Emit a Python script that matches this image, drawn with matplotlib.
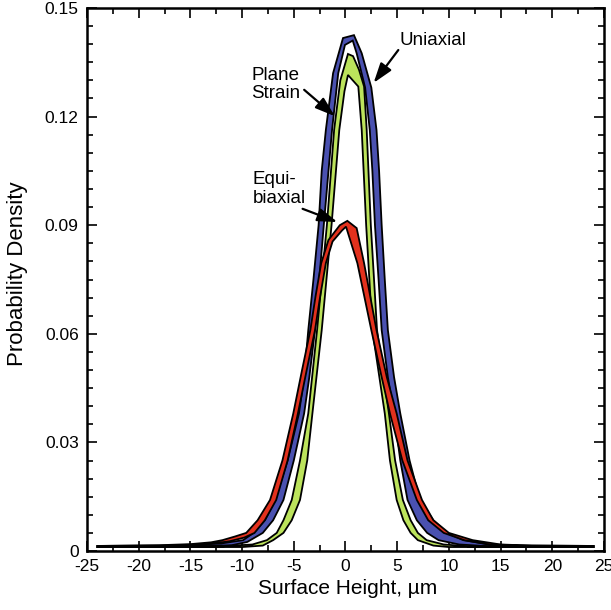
import matplotlib
matplotlib.use('Agg')
import matplotlib.pyplot as plt
from matplotlib.ticker import MultipleLocator, FuncFormatter

plt.rcParams['font.family'] = ['Liberation Sans', 'DejaVu Sans']
plt.rcParams['axes.unicode_minus'] = False

# each band = upper (outer) curve and lower (inner) curve, surface height in um
# uniaxial
uni_hi_x = [-24, -18, -14, -12, -9.9, -8.9, -7.8, -6.8, -5.6, -4.5, -4.0, -3.6, -3.1, -2.6, -2.3, -1.9,
            -1.2, -0.24, 0.82, 1.57, 2.5, 3.0, 3.25, 3.5, 3.8, 4.1, 4.7, 5.3, 6.2, 7.2, 8.5, 9.8, 11.4,
            14, 18, 24]
uni_hi_y = [0.0014, 0.0015, 0.0018, 0.0021, 0.003, 0.005, 0.0085, 0.0141, 0.025, 0.038, 0.048, 0.061,
            0.075, 0.09, 0.105, 0.1163, 0.132, 0.1417, 0.1425, 0.1375, 0.128, 0.1163, 0.105, 0.09,
            0.075, 0.061, 0.048, 0.038, 0.025, 0.0141, 0.0085, 0.005, 0.003, 0.0018, 0.0015, 0.0014]
uni_lo_x = [-24, -14, -11, -9.5, -8.0, -7.0, -6.0, -5.0, -4.0, -3.5, -2.95, -2.1, -1.3, -0.7, -0.05,
            0.7, 1.08, 1.9, 2.35, 2.6, 2.85, 3.2, 3.5, 4.1, 4.7, 5.3, 6.0, 6.9, 7.9, 9.0, 11, 14, 24]
uni_lo_y = [0.0011, 0.0013, 0.0016, 0.0025, 0.005, 0.0085, 0.0141, 0.025, 0.038, 0.048, 0.061, 0.09,
            0.1163, 0.132, 0.1398, 0.141, 0.1375, 0.128, 0.1163, 0.105, 0.09, 0.075, 0.061, 0.048,
            0.038, 0.025, 0.0141, 0.0085, 0.005, 0.003, 0.0018, 0.0013, 0.0011]

# plane strain
ps_hi_x = [-24, -12, -9, -7.6, -6.65, -6.0, -5.2, -4.4, -3.6, -2.75, -1.8, -1.1, -0.5, 0.24, 0.73,
           1.3, 1.8, 2.05, 2.45, 3.05, 4.2, 4.8, 5.55, 6.3, 7.0, 7.85, 9.5, 12, 24]
ps_hi_y = [0.0013, 0.0013, 0.0018, 0.003, 0.005, 0.0085, 0.0141, 0.025, 0.038, 0.061, 0.09, 0.1163,
           0.130, 0.1373, 0.1367, 0.133, 0.1283, 0.1163, 0.09, 0.061, 0.038, 0.025, 0.0141, 0.0085,
           0.005, 0.003, 0.0018, 0.0013, 0.0013]
ps_lo_x = [-24, -10, -8, -7, -6.0, -5.2, -4.4, -3.7, -3.2, -2.3, -1.35, -0.6, -0.1, 0.24, 1.24, 1.57,
           2.0, 2.6, 3.8, 4.3, 4.95, 5.6, 6.3, 7, 8.5, 10, 24]
ps_lo_y = [0.0011, 0.0011, 0.0015, 0.003, 0.005, 0.0085, 0.0141, 0.025, 0.038, 0.061, 0.09, 0.1163,
           0.127, 0.1315, 0.1283, 0.1163, 0.09, 0.061, 0.038, 0.025, 0.0141, 0.0085, 0.005, 0.003,
           0.0015, 0.0011, 0.0011]

# equi-biaxial
eq_hi_x = [-24, -18, -15, -13, -11.9, -10.7, -9.6, -8.5, -7.3, -6.1, -5.05, -4.2, -3.4, -2.9, -2.35,
           -1.65, -0.55, 0.18, 1.08, 1.8, 3.0, 4.0, 4.95, 6.0, 7.4, 8.5, 10, 12.3, 15, 18, 24]
eq_hi_y = [0.0014, 0.0016, 0.0019, 0.0024, 0.003, 0.004, 0.005, 0.0085, 0.0141, 0.025, 0.038, 0.050,
           0.061, 0.0703, 0.0795, 0.0859, 0.090, 0.0912, 0.0892, 0.0795, 0.061, 0.048, 0.038, 0.025,
           0.0141, 0.0085, 0.005, 0.003, 0.0018, 0.0015, 0.0014]
eq_lo_x = [-24, -18, -15, -13, -11.2, -9.8, -8.8, -7.8, -6.7, -5.6, -4.6, -3.75, -2.95, -2.45, -1.9,
           -1.25, -0.35, 0.05, 1.15, 2.5, 3.5, 4.3, 5.5, 6.9, 8.0, 9.5, 11.5, 14, 18, 24]
eq_lo_y = [0.0011, 0.0013, 0.0016, 0.002, 0.0027, 0.0037, 0.005, 0.0085, 0.0141, 0.025, 0.038, 0.050,
           0.061, 0.0703, 0.0795, 0.0855, 0.0885, 0.0896, 0.0795, 0.061, 0.048, 0.038, 0.025, 0.0141,
           0.0085, 0.005, 0.003, 0.0017, 0.0013, 0.0011]

fig = plt.figure(figsize=(6.11, 6.10), dpi=100)
ax = fig.add_axes([0.1424, 0.0967, 0.8461, 0.8902])

bands = [(uni_hi_x, uni_hi_y, uni_lo_x, uni_lo_y, '#4a51b0'),
         (ps_hi_x, ps_hi_y, ps_lo_x, ps_lo_y, '#bce35c'),
         (eq_hi_x, eq_hi_y, eq_lo_x, eq_lo_y, '#e2311d')]
for i, (hx, hy, lx, ly, c) in enumerate(bands):
    ax.fill(hx + lx[::-1], hy + ly[::-1], facecolor=c, edgecolor='black', lw=1.3, zorder=2 + i)

ax.set_xlim(-25, 25)
ax.set_ylim(0, 0.15)
ax.xaxis.set_major_locator(MultipleLocator(5))
ax.xaxis.set_minor_locator(MultipleLocator(2.5))
ax.yaxis.set_major_locator(MultipleLocator(0.03))
ax.yaxis.set_minor_locator(MultipleLocator(0.005))
ax.yaxis.set_major_formatter(FuncFormatter(lambda v, p: '0' if abs(v) < 1e-9 else '%.2f' % v))
ax.tick_params(which='both', direction='in', top=True, right=True, labelsize=12.5, width=1.2)
ax.tick_params(which='major', length=7, pad=6)
ax.tick_params(which='minor', length=4)
for s in ax.spines.values():
    s.set_linewidth(1.8)

ax.set_xlabel('Surface Height, µm', fontsize=15)
ax.set_ylabel('Probability Density', fontsize=16)
ax.xaxis.set_label_coords(0.505, -0.052)
ax.yaxis.set_label_coords(-0.115, 0.511)

arrow = dict(arrowstyle='-|>,head_length=1.2,head_width=0.4', color='black', lw=1.6)
ax.text(5.27, 0.1398, 'Uniaxial', fontsize=13.5, ha='left', va='baseline')
ax.annotate('', xy=(2.56, 0.1287), xytext=(5.27, 0.1390), arrowprops=arrow)
ax.text(-9.08, 0.1251, 'Plane\nStrain', fontsize=13.5, ha='left', va='baseline', linespacing=1.05)
ax.annotate('', xy=(-0.82, 0.1196), xytext=(-4.2, 0.1279), arrowprops=arrow)
ax.text(-8.97, 0.0962, 'Equi-\nbiaxial', fontsize=13.5, ha='left', va='baseline', linespacing=1.15)
ax.annotate('', xy=(-0.53, 0.0906), xytext=(-4.4, 0.0948), arrowprops=arrow)

plt.savefig('out.png', dpi=100)
